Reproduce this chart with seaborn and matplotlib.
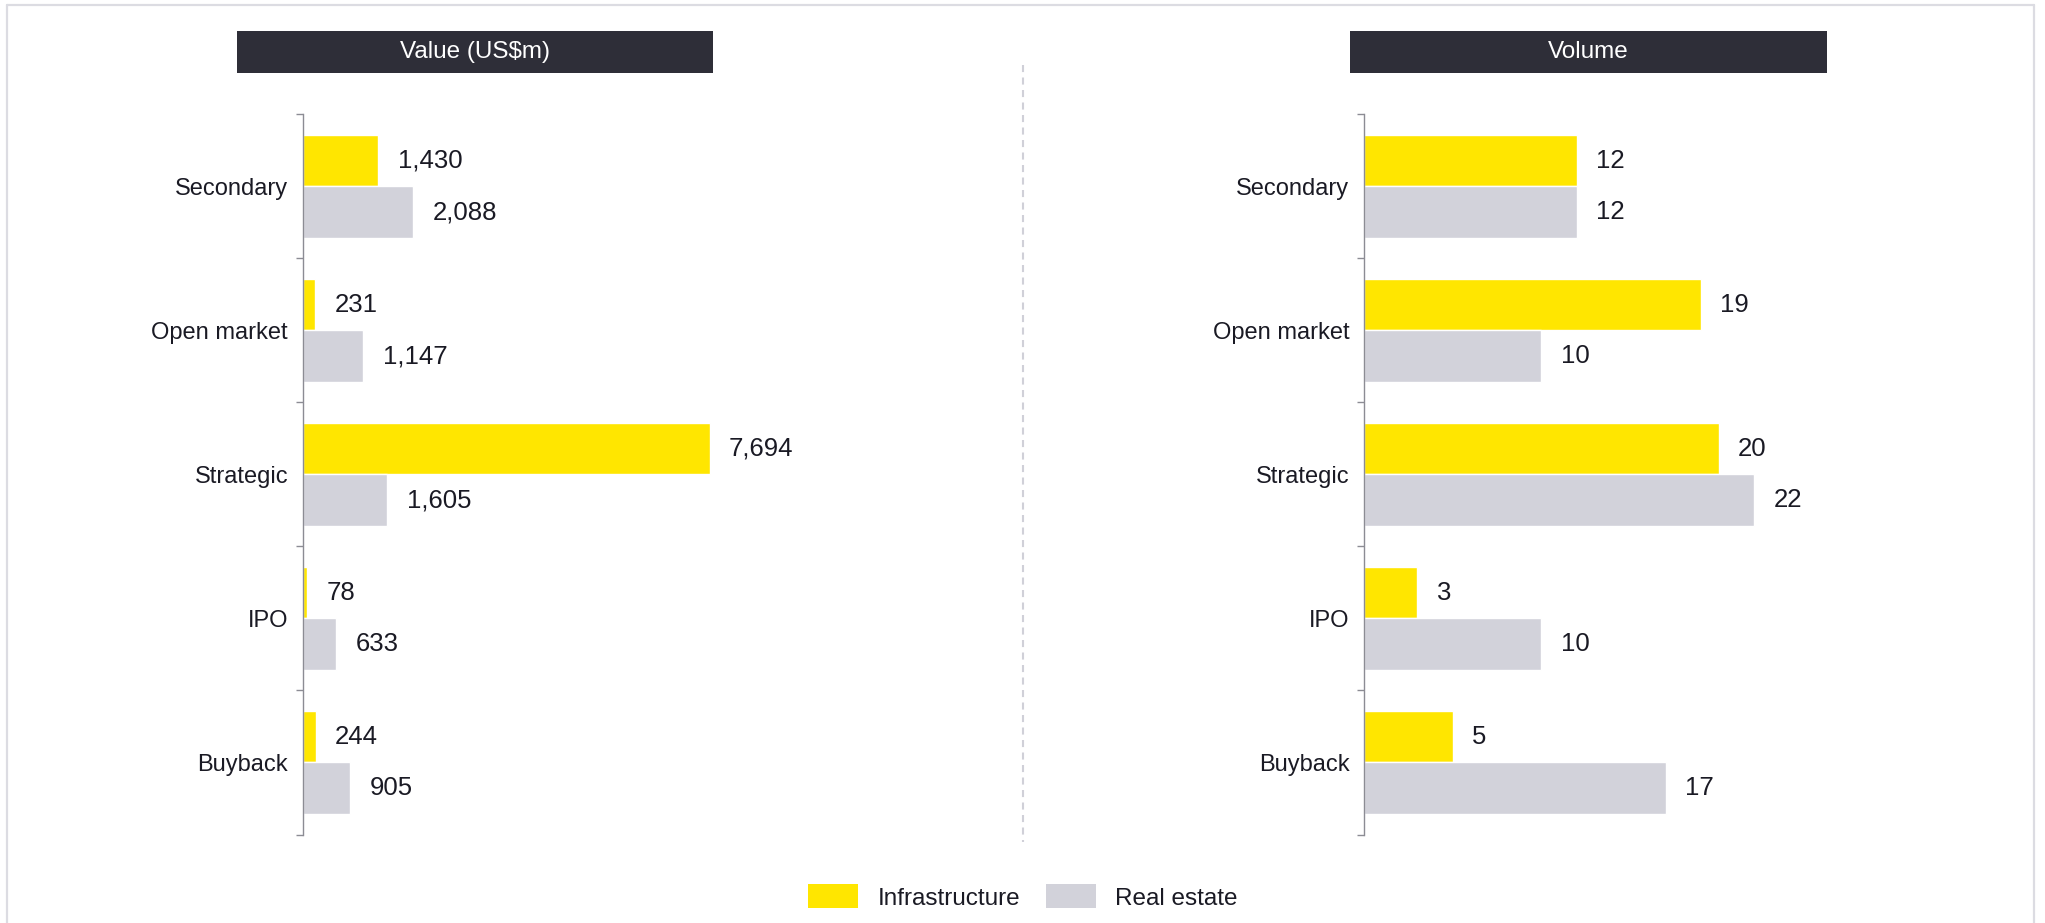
import matplotlib
matplotlib.use("Agg")
import matplotlib.pyplot as plt
from matplotlib.patches import Rectangle, Patch
from matplotlib.lines import Line2D
import seaborn as sns
import pandas as pd

# Deal types and sector figures
deal_types = ["Secondary", "Open market", "Strategic", "IPO", "Buyback"]
sectors = ["Infrastructure", "Real estate"]
value_infra = [1430, 231, 7694, 78, 244]
value_realestate = [2088, 1147, 1605, 633, 905]
volume_infra = [12, 19, 20, 3, 5]
volume_realestate = [12, 10, 22, 10, 17]
panel_titles = ["Value (US$m)", "Volume"]

YELLOW = "#FFE600"
GREY = "#D2D2DA"
DARK = "#2E2E38"
TEXT = "#1A1A24"
AXIS = "#8C8C94"

sns.set_theme(style="white")
plt.rcParams["font.family"] = ["Liberation Sans", "DejaVu Sans"]

W, H = 2045, 923
fig = plt.figure(figsize=(W / 100, H / 100), dpi=100)


def long_frame(infra, realestate):
    rows = []
    for cat, a, b in zip(deal_types, infra, realestate):
        rows.append({"deal": cat, "sector": sectors[0], "value": a})
        rows.append({"deal": cat, "sector": sectors[1], "value": b})
    return pd.DataFrame(rows)


def px_rect(x0, y0, x1, y1):
    """Figure-fraction rectangle from pixel coordinates (top-left origin)."""
    return [x0 / W, 1 - y1 / H, (x1 - x0) / W, (y1 - y0) / H]


panels = [
    dict(df=long_frame(value_infra, value_realestate), ax_px=(302.6, 114.3, 713, 834.5),
         xmax=7760, title_px=(237, 31, 713, 73), title=panel_titles[0]),
    dict(df=long_frame(volume_infra, volume_realestate), ax_px=(1364, 114.3, 1827, 834.5),
         xmax=26.1, title_px=(1350, 31, 1827, 73), title=panel_titles[1]),
]

for p in panels:
    ax = fig.add_axes(px_rect(*p["ax_px"]))
    sns.barplot(data=p["df"], y="deal", x="value", hue="sector", orient="h",
                palette=[YELLOW, GREY], width=0.715, saturation=1,
                legend=False, ax=ax, errorbar=None)
    ax.set_xlim(0, p["xmax"])
    ax.set_ylim(len(deal_types) - 0.5, -0.5)
    ax.set_xlabel("")
    ax.set_ylabel("")
    ax.set_xticks([])
    for side in ["top", "right", "bottom"]:
        ax.spines[side].set_visible(False)
    ax.spines["left"].set_color(AXIS)
    ax.spines["left"].set_linewidth(1.0)
    # category labels at the band centres, ticks on the band boundaries
    ax.set_yticks(range(len(deal_types)))
    ax.set_yticklabels(deal_types, fontsize=17, color=TEXT)
    ax.tick_params(axis="y", which="major", length=0, pad=10.5)
    ax.set_yticks([i - 0.5 for i in range(len(deal_types) + 1)], minor=True)
    ax.tick_params(axis="y", which="minor", length=4.8, width=1.0, color=AXIS,
                   direction="out", left=True)
    for cont in ax.containers:
        labels = [f"{v:,.0f}" for v in cont.datavalues]
        ax.bar_label(cont, labels=labels, padding=14, fontsize=18.5, color=TEXT)

    # dark header band above each panel
    tx0, ty0, tx1, ty1 = p["title_px"]
    fig.patches.append(Rectangle((tx0 / W, 1 - ty1 / H), (tx1 - tx0) / W, (ty1 - ty0) / H,
                                 transform=fig.transFigure, facecolor=DARK,
                                 edgecolor="none", zorder=0))
    fig.text((tx0 + tx1) / 2 / W, 1 - (ty0 + ty1) / 2 / H, p["title"], color="white",
             fontsize=17.5, ha="center", va="center")

# dashed divider between the panels
fig.add_artist(Line2D([1023 / W, 1023 / W], [1 - 65 / H, 1 - 842 / H],
                      transform=fig.transFigure, color="#D0D0D8", linewidth=1.5,
                      linestyle=(0, (3.4, 2.6))))

# light outer frame (top, left, right)
frame_kw = dict(transform=fig.transFigure, color="#DCDCE2", linewidth=1.6)
fig.add_artist(Line2D([7 / W, 2034 / W], [1 - 5 / H, 1 - 5 / H], **frame_kw))
fig.add_artist(Line2D([7 / W, 7 / W], [1 - 5 / H, 0], **frame_kw))
fig.add_artist(Line2D([2034 / W, 2034 / W], [1 - 5 / H, 0], **frame_kw))

handles = [Patch(facecolor=YELLOW, edgecolor="none"), Patch(facecolor=GREY, edgecolor="none")]
fig.legend(handles, sectors, loc="center", bbox_to_anchor=(1023 / W, 1 - 897 / H),
           ncol=2, frameon=False, fontsize=17.5, handlelength=2.06, handleheight=1.11,
           handletextpad=0.78, columnspacing=1.07, labelcolor=TEXT)

fig.savefig("out.png", dpi=100, facecolor="white")
